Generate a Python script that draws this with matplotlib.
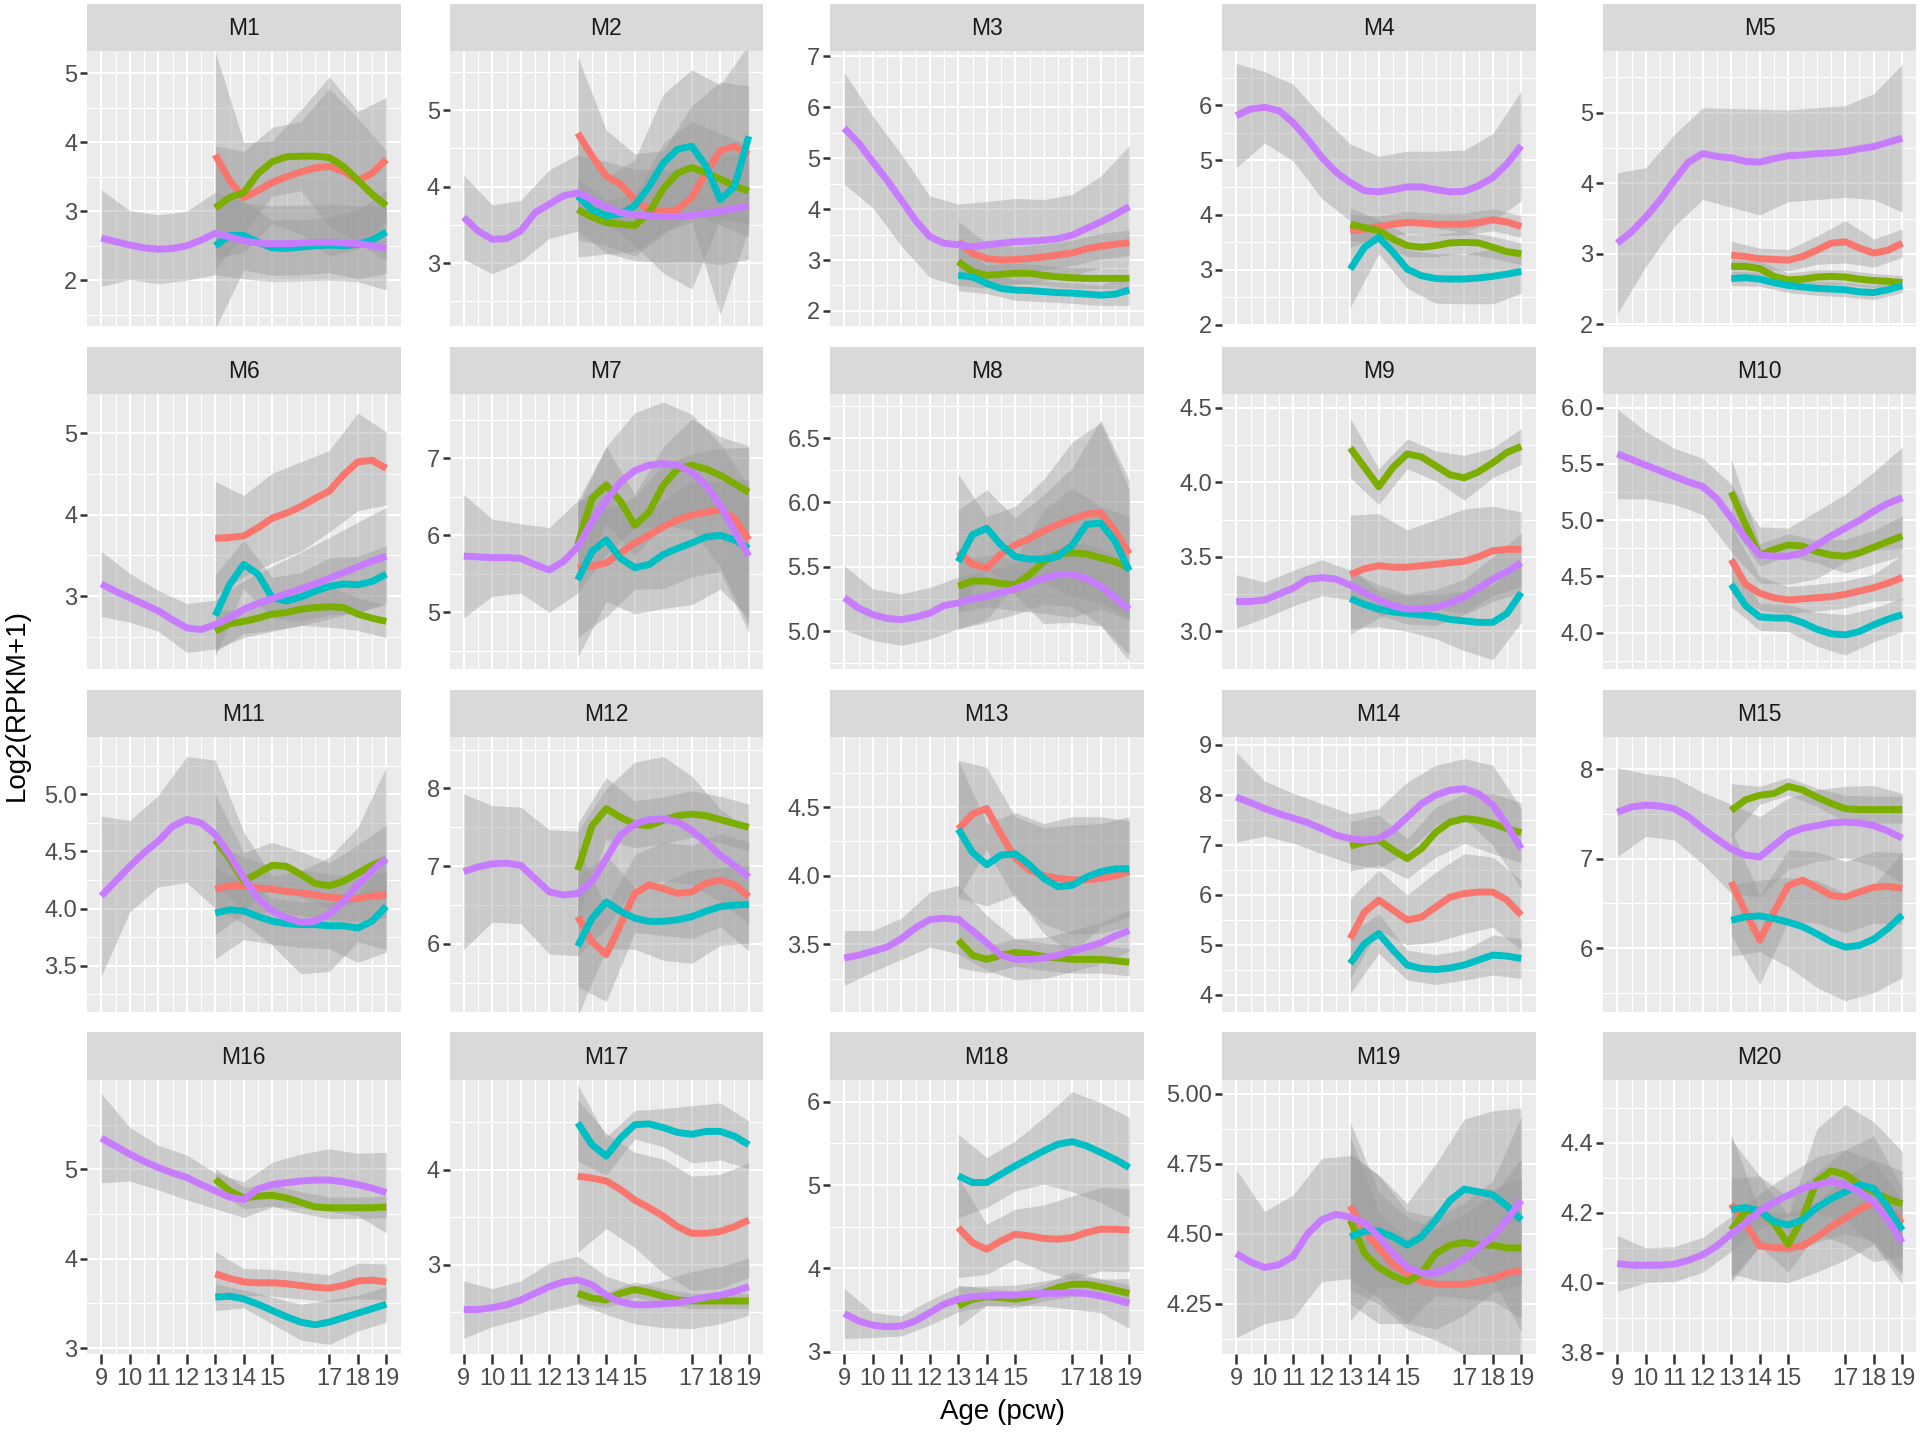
import matplotlib.pyplot as plt

plt.rcParams["font.family"] = ["Liberation Sans Narrow", "Liberation Sans", "DejaVu Sans"]

modules = ["M1", "M2", "M3", "M4", "M5", "M6", "M7", "M8", "M9", "M10",
           "M11", "M12", "M13", "M14", "M15", "M16", "M17", "M18", "M19", "M20"]

age_fine = [9, 9.5, 10, 10.5, 11, 11.5, 12, 12.5, 13, 13.5, 14, 14.5, 15, 15.5,
            16, 16.5, 17, 17.5, 18, 18.5, 19]
age_late = [13, 13.5, 14, 14.5, 15, 15.5, 16, 16.5, 17, 17.5, 18, 18.5, 19]
band_full = [9, 10, 11, 12, 13, 14, 15, 16, 17, 18, 19]
band_late = [13, 14, 15, 16, 17, 18, 19]
age_ticks = [9, 10, 11, 12, 13, 14, 15, 17, 18, 19]

# smoothed trend per module (purple group spans 9-19 pcw)
purple = [
    [2.61, 2.56, 2.51, 2.47, 2.45, 2.46, 2.50, 2.58, 2.68, 2.63, 2.57, 2.54, 2.53, 2.53, 2.54, 2.55, 2.55, 2.54, 2.53, 2.50, 2.46],
    [3.60, 3.42, 3.31, 3.32, 3.42, 3.66, 3.77, 3.88, 3.92, 3.83, 3.73, 3.66, 3.63, 3.62, 3.61, 3.61, 3.62, 3.65, 3.68, 3.71, 3.75],
    [5.59, 5.30, 4.93, 4.57, 4.18, 3.78, 3.46, 3.33, 3.30, 3.26, 3.30, 3.33, 3.36, 3.37, 3.39, 3.42, 3.49, 3.62, 3.75, 3.89, 4.05],
    [5.81, 5.93, 5.96, 5.90, 5.68, 5.38, 5.05, 4.78, 4.59, 4.44, 4.42, 4.46, 4.51, 4.51, 4.46, 4.42, 4.43, 4.53, 4.68, 4.93, 5.26],
    [3.15, 3.31, 3.52, 3.76, 4.04, 4.30, 4.42, 4.38, 4.36, 4.31, 4.30, 4.35, 4.39, 4.40, 4.42, 4.43, 4.45, 4.49, 4.52, 4.58, 4.64],
    [3.15, 3.06, 2.98, 2.90, 2.82, 2.71, 2.61, 2.59, 2.65, 2.73, 2.84, 2.91, 2.97, 3.03, 3.09, 3.15, 3.22, 3.29, 3.36, 3.43, 3.49],
    [5.73, 5.72, 5.71, 5.71, 5.70, 5.62, 5.55, 5.66, 5.85, 6.18, 6.45, 6.69, 6.84, 6.91, 6.93, 6.91, 6.82, 6.65, 6.39, 6.05, 5.73],
    [5.26, 5.18, 5.13, 5.10, 5.09, 5.11, 5.14, 5.20, 5.22, 5.25, 5.27, 5.30, 5.33, 5.37, 5.41, 5.44, 5.44, 5.41, 5.35, 5.26, 5.17],
    [3.20, 3.20, 3.21, 3.25, 3.29, 3.35, 3.36, 3.35, 3.31, 3.26, 3.21, 3.17, 3.15, 3.15, 3.16, 3.19, 3.23, 3.29, 3.35, 3.40, 3.46],
    [5.59, 5.54, 5.49, 5.44, 5.39, 5.34, 5.30, 5.19, 5.02, 4.84, 4.69, 4.68, 4.68, 4.71, 4.78, 4.86, 4.93, 5.00, 5.08, 5.15, 5.20],
    [4.11, 4.24, 4.37, 4.49, 4.59, 4.72, 4.78, 4.75, 4.65, 4.47, 4.27, 4.09, 3.98, 3.92, 3.88, 3.89, 3.95, 4.06, 4.21, 4.33, 4.44],
    [6.93, 6.99, 7.03, 7.04, 7.01, 6.84, 6.67, 6.63, 6.65, 6.80, 7.10, 7.40, 7.54, 7.60, 7.61, 7.57, 7.46, 7.31, 7.14, 7.01, 6.86],
    [3.40, 3.42, 3.45, 3.48, 3.54, 3.62, 3.68, 3.69, 3.68, 3.60, 3.51, 3.42, 3.39, 3.39, 3.40, 3.42, 3.45, 3.48, 3.51, 3.56, 3.60],
    [7.95, 7.84, 7.72, 7.62, 7.53, 7.44, 7.32, 7.19, 7.12, 7.09, 7.12, 7.29, 7.55, 7.82, 7.99, 8.09, 8.12, 8.02, 7.79, 7.39, 6.92],
    [7.52, 7.58, 7.60, 7.59, 7.56, 7.47, 7.34, 7.22, 7.11, 7.04, 7.02, 7.15, 7.28, 7.34, 7.37, 7.40, 7.41, 7.40, 7.37, 7.31, 7.23],
    [5.35, 5.26, 5.17, 5.09, 5.02, 4.96, 4.91, 4.83, 4.76, 4.69, 4.66, 4.78, 4.83, 4.85, 4.87, 4.88, 4.88, 4.86, 4.83, 4.79, 4.74],
    [2.53, 2.53, 2.55, 2.58, 2.63, 2.70, 2.77, 2.82, 2.84, 2.79, 2.68, 2.61, 2.58, 2.58, 2.59, 2.60, 2.63, 2.66, 2.68, 2.72, 2.77],
    [3.46, 3.37, 3.32, 3.30, 3.31, 3.37, 3.47, 3.57, 3.63, 3.66, 3.67, 3.68, 3.68, 3.69, 3.70, 3.70, 3.71, 3.70, 3.67, 3.63, 3.58],
    [4.43, 4.40, 4.38, 4.39, 4.42, 4.50, 4.55, 4.57, 4.56, 4.54, 4.49, 4.43, 4.38, 4.36, 4.36, 4.38, 4.41, 4.45, 4.49, 4.55, 4.62],
    [4.055, 4.05, 4.05, 4.05, 4.053, 4.064, 4.08, 4.105, 4.14, 4.17, 4.205, 4.23, 4.25, 4.27, 4.28, 4.29, 4.28, 4.26, 4.23, 4.18, 4.115],
]

red = [
    [3.82, 3.45, 3.20, 3.30, 3.42, 3.50, 3.57, 3.63, 3.65, 3.58, 3.45, 3.55, 3.75],
    [4.70, 4.40, 4.14, 4.03, 3.83, 3.70, 3.67, 3.70, 3.86, 4.18, 4.47, 4.53, 4.42],
    [3.36, 3.13, 3.03, 3.00, 3.01, 3.03, 3.06, 3.10, 3.14, 3.22, 3.27, 3.31, 3.34],
    [3.71, 3.74, 3.78, 3.83, 3.86, 3.85, 3.83, 3.83, 3.83, 3.86, 3.91, 3.87, 3.79],
    [2.98, 2.96, 2.93, 2.92, 2.91, 2.96, 3.05, 3.15, 3.17, 3.08, 3.01, 3.05, 3.15],
    [3.71, 3.72, 3.74, 3.84, 3.96, 4.02, 4.10, 4.20, 4.29, 4.49, 4.65, 4.67, 4.57],
    [5.58, 5.60, 5.64, 5.77, 5.90, 6.00, 6.11, 6.20, 6.26, 6.30, 6.33, 6.22, 5.94],
    [5.62, 5.52, 5.49, 5.60, 5.67, 5.72, 5.78, 5.83, 5.87, 5.91, 5.92, 5.78, 5.60],
    [3.38, 3.42, 3.44, 3.43, 3.43, 3.44, 3.45, 3.46, 3.47, 3.50, 3.54, 3.55, 3.55],
    [4.65, 4.43, 4.35, 4.31, 4.29, 4.30, 4.31, 4.32, 4.34, 4.37, 4.40, 4.44, 4.49],
    [4.17, 4.20, 4.20, 4.18, 4.17, 4.15, 4.14, 4.12, 4.10, 4.09, 4.09, 4.11, 4.12],
    [6.35, 6.03, 5.86, 6.25, 6.65, 6.76, 6.71, 6.65, 6.67, 6.78, 6.82, 6.76, 6.61],
    [4.34, 4.45, 4.49, 4.30, 4.13, 4.04, 4.00, 3.98, 3.97, 3.97, 3.98, 4.00, 4.03],
    [5.12, 5.65, 5.89, 5.69, 5.49, 5.55, 5.75, 5.95, 6.02, 6.05, 6.05, 5.89, 5.59],
    [6.74, 6.40, 6.09, 6.40, 6.70, 6.76, 6.68, 6.59, 6.57, 6.63, 6.68, 6.69, 6.67],
    [3.83, 3.78, 3.74, 3.73, 3.73, 3.72, 3.70, 3.68, 3.67, 3.70, 3.75, 3.76, 3.74],
    [3.93, 3.91, 3.88, 3.79, 3.68, 3.60, 3.51, 3.40, 3.33, 3.33, 3.35, 3.40, 3.47],
    [4.49, 4.31, 4.23, 4.33, 4.41, 4.39, 4.36, 4.35, 4.37, 4.43, 4.47, 4.47, 4.46],
    [4.60, 4.51, 4.45, 4.39, 4.36, 4.33, 4.32, 4.32, 4.32, 4.33, 4.34, 4.36, 4.37],
    [4.225, 4.17, 4.105, 4.10, 4.10, 4.105, 4.13, 4.16, 4.185, 4.21, 4.23, 4.215, 4.17],
]

green = [
    [3.05, 3.20, 3.27, 3.55, 3.72, 3.79, 3.80, 3.80, 3.78, 3.65, 3.45, 3.25, 3.08],
    [3.70, 3.60, 3.53, 3.51, 3.49, 3.66, 3.97, 4.18, 4.25, 4.18, 4.10, 4.01, 3.94],
    [2.97, 2.77, 2.70, 2.72, 2.74, 2.74, 2.70, 2.67, 2.65, 2.64, 2.64, 2.64, 2.64],
    [3.83, 3.77, 3.71, 3.56, 3.44, 3.41, 3.44, 3.49, 3.50, 3.49, 3.41, 3.33, 3.29],
    [2.82, 2.82, 2.79, 2.68, 2.63, 2.64, 2.67, 2.68, 2.67, 2.64, 2.62, 2.61, 2.59],
    [2.57, 2.66, 2.69, 2.73, 2.78, 2.80, 2.84, 2.86, 2.87, 2.86, 2.78, 2.73, 2.69],
    [5.88, 6.48, 6.65, 6.44, 6.13, 6.30, 6.65, 6.86, 6.91, 6.86, 6.78, 6.67, 6.56],
    [5.35, 5.39, 5.39, 5.37, 5.36, 5.44, 5.54, 5.60, 5.61, 5.60, 5.57, 5.54, 5.49],
    [4.23, 4.10, 3.97, 4.10, 4.19, 4.17, 4.11, 4.05, 4.03, 4.07, 4.13, 4.20, 4.24],
    [5.25, 4.96, 4.69, 4.74, 4.78, 4.77, 4.72, 4.69, 4.68, 4.71, 4.76, 4.81, 4.86],
    [4.60, 4.44, 4.24, 4.31, 4.38, 4.37, 4.30, 4.22, 4.20, 4.24, 4.31, 4.38, 4.43],
    [6.95, 7.52, 7.74, 7.63, 7.54, 7.52, 7.59, 7.65, 7.67, 7.65, 7.60, 7.55, 7.50],
    [3.53, 3.42, 3.39, 3.42, 3.44, 3.43, 3.41, 3.40, 3.39, 3.39, 3.39, 3.38, 3.37],
    [6.97, 7.05, 7.09, 6.89, 6.72, 6.92, 7.25, 7.45, 7.52, 7.49, 7.42, 7.32, 7.24],
    [7.54, 7.66, 7.71, 7.73, 7.81, 7.77, 7.69, 7.62, 7.56, 7.55, 7.55, 7.55, 7.55],
    [4.89, 4.76, 4.68, 4.70, 4.71, 4.68, 4.63, 4.58, 4.57, 4.57, 4.57, 4.57, 4.58],
    [2.70, 2.65, 2.63, 2.70, 2.74, 2.71, 2.67, 2.63, 2.62, 2.62, 2.62, 2.62, 2.62],
    [3.55, 3.63, 3.66, 3.65, 3.63, 3.66, 3.71, 3.77, 3.81, 3.81, 3.78, 3.74, 3.70],
    [4.55, 4.43, 4.38, 4.35, 4.33, 4.36, 4.43, 4.46, 4.47, 4.46, 4.46, 4.45, 4.45],
    [4.15, 4.205, 4.205, 4.17, 4.11, 4.185, 4.29, 4.32, 4.31, 4.28, 4.26, 4.24, 4.225],
]

cyan = [
    [2.50, 2.65, 2.65, 2.55, 2.47, 2.46, 2.48, 2.50, 2.51, 2.50, 2.52, 2.58, 2.70],
    [3.88, 3.70, 3.62, 3.64, 3.75, 4.00, 4.31, 4.49, 4.53, 4.27, 3.83, 4.00, 4.66],
    [2.70, 2.67, 2.54, 2.44, 2.41, 2.40, 2.38, 2.36, 2.35, 2.33, 2.31, 2.33, 2.41],
    [3.01, 3.41, 3.59, 3.32, 3.01, 2.89, 2.84, 2.83, 2.83, 2.85, 2.88, 2.92, 2.97],
    [2.65, 2.66, 2.64, 2.59, 2.55, 2.53, 2.51, 2.50, 2.49, 2.46, 2.45, 2.49, 2.55],
    [2.76, 3.14, 3.39, 3.27, 2.98, 2.94, 2.99, 3.06, 3.12, 3.15, 3.14, 3.18, 3.27],
    [5.42, 5.79, 5.94, 5.70, 5.58, 5.62, 5.75, 5.83, 5.90, 5.98, 6.00, 5.94, 5.83],
    [5.54, 5.75, 5.80, 5.67, 5.58, 5.56, 5.56, 5.58, 5.67, 5.83, 5.84, 5.70, 5.47],
    [3.22, 3.18, 3.15, 3.13, 3.12, 3.11, 3.10, 3.08, 3.07, 3.06, 3.06, 3.12, 3.26],
    [4.43, 4.24, 4.14, 4.13, 4.13, 4.09, 4.03, 3.99, 3.98, 4.01, 4.07, 4.12, 4.16],
    [3.96, 3.99, 3.98, 3.93, 3.89, 3.87, 3.86, 3.86, 3.85, 3.85, 3.83, 3.89, 4.02],
    [5.97, 6.33, 6.54, 6.42, 6.33, 6.29, 6.29, 6.31, 6.35, 6.42, 6.48, 6.50, 6.51],
    [4.34, 4.17, 4.08, 4.15, 4.16, 4.08, 3.98, 3.92, 3.93, 3.99, 4.03, 4.05, 4.05],
    [4.62, 5.02, 5.22, 4.89, 4.59, 4.52, 4.50, 4.53, 4.59, 4.69, 4.79, 4.77, 4.72],
    [6.31, 6.35, 6.36, 6.33, 6.29, 6.24, 6.16, 6.07, 6.01, 6.03, 6.10, 6.22, 6.37],
    [3.57, 3.58, 3.55, 3.49, 3.42, 3.35, 3.29, 3.26, 3.29, 3.34, 3.39, 3.44, 3.49],
    [4.49, 4.26, 4.14, 4.33, 4.47, 4.48, 4.44, 4.39, 4.37, 4.40, 4.40, 4.35, 4.26],
    [5.11, 5.03, 5.03, 5.13, 5.23, 5.32, 5.41, 5.49, 5.52, 5.47, 5.39, 5.31, 5.21],
    [4.49, 4.51, 4.51, 4.49, 4.46, 4.49, 4.55, 4.62, 4.66, 4.65, 4.64, 4.60, 4.55],
    [4.21, 4.215, 4.205, 4.175, 4.165, 4.18, 4.215, 4.24, 4.26, 4.28, 4.27, 4.215, 4.15],
]

# half width of the confidence band at whole-week ages
purple_hw = [
    [0.70, 0.50, 0.50, 0.50, 0.60, 0.55, 0.55, 0.55, 0.55, 0.55, 0.60],
    [0.55, 0.45, 0.40, 0.45, 0.50, 0.60, 0.60, 0.60, 0.60, 0.70, 0.70],
    [1.10, 0.90, 0.90, 0.80, 0.80, 0.85, 0.85, 0.80, 0.80, 0.90, 1.20],
    [0.95, 0.65, 0.70, 0.75, 0.70, 0.65, 0.65, 0.70, 0.75, 0.80, 1.00],
    [1.00, 0.70, 0.65, 0.65, 0.70, 0.75, 0.65, 0.65, 0.65, 0.75, 1.05],
    [0.40, 0.30, 0.25, 0.30, 0.30, 0.35, 0.40, 0.45, 0.50, 0.55, 0.60],
    [0.80, 0.50, 0.45, 0.55, 0.60, 0.70, 0.75, 0.80, 0.75, 0.80, 0.90],
    [0.25, 0.20, 0.20, 0.20, 0.20, 0.20, 0.20, 0.20, 0.25, 0.30, 0.35],
    [0.18, 0.12, 0.12, 0.12, 0.10, 0.10, 0.10, 0.12, 0.12, 0.15, 0.20],
    [0.40, 0.30, 0.25, 0.25, 0.30, 0.25, 0.25, 0.30, 0.30, 0.35, 0.45],
    [0.70, 0.40, 0.40, 0.55, 0.65, 0.40, 0.30, 0.45, 0.50, 0.50, 0.80],
    [1.00, 0.75, 0.75, 0.80, 0.80, 0.90, 0.80, 0.80, 0.70, 0.60, 0.60],
    [0.20, 0.15, 0.15, 0.20, 0.25, 0.20, 0.15, 0.15, 0.15, 0.15, 0.15],
    [0.90, 0.55, 0.50, 0.50, 0.50, 0.60, 0.70, 0.60, 0.60, 0.80, 0.80],
    [0.50, 0.35, 0.35, 0.40, 0.50, 0.45, 0.40, 0.40, 0.40, 0.45, 0.50],
    [0.50, 0.30, 0.25, 0.25, 0.20, 0.20, 0.25, 0.30, 0.35, 0.35, 0.45],
    [0.30, 0.20, 0.20, 0.25, 0.25, 0.20, 0.20, 0.25, 0.30, 0.30, 0.30],
    [0.30, 0.15, 0.12, 0.15, 0.15, 0.12, 0.12, 0.15, 0.20, 0.20, 0.30],
    [0.30, 0.20, 0.22, 0.22, 0.22, 0.22, 0.20, 0.20, 0.20, 0.20, 0.30],
    [0.08, 0.05, 0.05, 0.05, 0.05, 0.05, 0.06, 0.08, 0.10, 0.12, 0.12],
]

red_hw = [
    [1.50, 0.80, 0.60, 0.90, 1.30, 1.00, 0.90],
    [1.00, 0.60, 0.60, 0.80, 1.20, 0.90, 0.90],
    [0.40, 0.30, 0.25, 0.25, 0.25, 0.25, 0.25],
    [0.30, 0.20, 0.20, 0.20, 0.20, 0.20, 0.20],
    [0.20, 0.15, 0.15, 0.20, 0.30, 0.20, 0.20],
    [0.70, 0.50, 0.55, 0.55, 0.50, 0.60, 0.45],
    [0.90, 0.70, 0.60, 0.80, 0.80, 0.80, 1.20],
    [0.60, 0.40, 0.30, 0.40, 0.60, 0.70, 0.50],
    [0.40, 0.35, 0.25, 0.30, 0.35, 0.30, 0.25],
    [0.30, 0.15, 0.12, 0.12, 0.12, 0.12, 0.20],
    [0.40, 0.25, 0.20, 0.20, 0.20, 0.20, 0.20],
    [0.90, 0.60, 0.50, 0.60, 0.60, 0.60, 0.70],
    [0.50, 0.30, 0.30, 0.35, 0.40, 0.40, 0.40],
    [0.80, 0.60, 0.50, 0.70, 0.80, 0.70, 0.70],
    [0.60, 0.50, 0.40, 0.40, 0.40, 0.40, 0.40],
    [0.25, 0.15, 0.15, 0.15, 0.15, 0.20, 0.20],
    [0.80, 0.50, 0.50, 0.60, 0.60, 0.60, 0.60],
    [0.60, 0.30, 0.30, 0.40, 0.50, 0.50, 0.50],
    [0.30, 0.20, 0.20, 0.20, 0.25, 0.30, 0.40],
    [0.20, 0.10, 0.10, 0.10, 0.12, 0.12, 0.15],
]

green_hw = [
    [0.90, 0.60, 0.50, 0.50, 1.00, 0.90, 0.80],
    [0.40, 0.30, 0.40, 0.60, 0.60, 0.60, 0.60],
    [0.30, 0.20, 0.20, 0.20, 0.20, 0.20, 0.20],
    [0.30, 0.20, 0.20, 0.20, 0.20, 0.20, 0.20],
    [0.10, 0.10, 0.10, 0.10, 0.10, 0.10, 0.10],
    [0.25, 0.15, 0.20, 0.20, 0.25, 0.20, 0.20],
    [0.50, 0.50, 0.40, 0.50, 0.60, 0.50, 0.60],
    [0.20, 0.20, 0.20, 0.40, 0.50, 0.40, 0.40],
    [0.20, 0.12, 0.10, 0.10, 0.15, 0.10, 0.12],
    [0.30, 0.10, 0.10, 0.10, 0.15, 0.15, 0.18],
    [0.40, 0.25, 0.20, 0.20, 0.20, 0.25, 0.30],
    [0.60, 0.40, 0.30, 0.30, 0.30, 0.30, 0.30],
    [0.20, 0.10, 0.10, 0.10, 0.10, 0.10, 0.10],
    [0.50, 0.50, 0.40, 0.50, 0.50, 0.60, 0.60],
    [0.30, 0.10, 0.10, 0.10, 0.15, 0.15, 0.15],
    [0.12, 0.12, 0.12, 0.12, 0.12, 0.12, 0.12],
    [0.10, 0.08, 0.08, 0.08, 0.08, 0.08, 0.08],
    [0.25, 0.10, 0.10, 0.10, 0.15, 0.10, 0.10],
    [0.30, 0.20, 0.15, 0.15, 0.20, 0.20, 0.25],
    [0.15, 0.10, 0.08, 0.15, 0.20, 0.20, 0.15],
]

cyan_hw = [
    [1.20, 0.50, 0.40, 0.40, 0.40, 0.50, 0.60],
    [0.80, 0.50, 0.60, 0.90, 1.00, 1.50, 1.20],
    [0.30, 0.20, 0.20, 0.20, 0.20, 0.20, 0.30],
    [0.70, 0.30, 0.35, 0.45, 0.45, 0.50, 0.40],
    [0.10, 0.10, 0.10, 0.10, 0.10, 0.10, 0.10],
    [0.50, 0.30, 0.25, 0.30, 0.35, 0.35, 0.35],
    [1.00, 0.80, 0.60, 0.70, 0.80, 0.70, 0.90],
    [0.40, 0.30, 0.30, 0.50, 0.60, 0.80, 0.70],
    [0.20, 0.12, 0.12, 0.15, 0.20, 0.25, 0.20],
    [0.20, 0.12, 0.12, 0.15, 0.18, 0.15, 0.15],
    [0.40, 0.25, 0.20, 0.20, 0.20, 0.30, 0.40],
    [0.90, 0.60, 0.40, 0.50, 0.60, 0.50, 0.50],
    [0.50, 0.30, 0.30, 0.40, 0.50, 0.40, 0.35],
    [0.60, 0.40, 0.30, 0.30, 0.30, 0.40, 0.40],
    [0.40, 0.40, 0.50, 0.60, 0.60, 0.60, 0.70],
    [0.15, 0.10, 0.15, 0.20, 0.25, 0.20, 0.20],
    [0.40, 0.20, 0.15, 0.20, 0.30, 0.30, 0.25],
    [0.50, 0.30, 0.30, 0.40, 0.60, 0.60, 0.60],
    [0.30, 0.20, 0.15, 0.20, 0.25, 0.30, 0.40],
    [0.20, 0.10, 0.08, 0.10, 0.12, 0.15, 0.12],
]

y_limits = [(1.34, 5.32), (2.18, 5.77), (1.71, 7.10), (1.98, 6.98), (1.98, 5.87),
            (2.11, 5.48), (4.27, 7.83), (4.71, 6.84), (2.75, 4.59), (3.68, 6.12),
            (3.10, 5.50), (5.13, 8.66), (3.01, 5.01), (3.66, 9.15), (5.29, 8.36),
            (2.93, 6.00), (2.06, 4.94), (2.97, 6.26), (4.07, 5.05), (3.795, 4.58)]
y_breaks = [[2, 3, 4, 5], [3, 4, 5], [2, 3, 4, 5, 6, 7], [2, 3, 4, 5, 6], [2, 3, 4, 5],
            [3, 4, 5], [5, 6, 7], [5.0, 5.5, 6.0, 6.5], [3.0, 3.5, 4.0, 4.5], [4.0, 4.5, 5.0, 5.5, 6.0],
            [3.5, 4.0, 4.5, 5.0], [6, 7, 8], [3.5, 4.0, 4.5], [4, 5, 6, 7, 8, 9], [6, 7, 8],
            [3, 4, 5], [3, 4], [3, 4, 5, 6], [4.25, 4.50, 4.75, 5.00], [3.8, 4.0, 4.2, 4.4]]
y_decimals = [0, 0, 0, 0, 0, 0, 0, 1, 1, 1, 1, 0, 1, 0, 0, 0, 0, 0, 2, 1]

# ggplot default hue palette, drawn in factor order
series_colors = ["#F8766D", "#7CAE00", "#00BFC4", "#C77CFF"]

W, H = 1920, 1433
fig = plt.figure(figsize=(W / 100, H / 100), dpi=100)

col_left = [87, 449.5, 830, 1222, 1603]
row_top = [51.4, 394.3, 737.2, 1080.0]
panel_w, panel_h, strip_h = 313.5, 274.3, 47.7
minor_x = [9.5, 10.5, 11.5, 12.5, 13.5, 14.5, 15.5, 16, 16.5, 17.5, 18.5]

for i, name in enumerate(modules):
    r, c = divmod(i, 5)
    x0, y0 = col_left[c], row_top[r]
    ax = fig.add_axes([x0 / W, 1 - (y0 + panel_h) / H, panel_w / W, panel_h / H])
    sx = fig.add_axes([x0 / W, 1 - y0 / H, panel_w / W, strip_h / H])

    # strip
    sx.set_facecolor("#D9D9D9")
    sx.set_xticks([])
    sx.set_yticks([])
    for s in sx.spines.values():
        s.set_visible(False)
    sx.text(0.5, 0.47, name, ha="center", va="center", fontsize=16.5,
            color="#1A1A1A", transform=sx.transAxes)

    # panel
    ax.set_facecolor("#EBEBEB")
    for s in ax.spines.values():
        s.set_visible(False)
    ax.set_axisbelow(True)
    ax.set_xlim(8.5, 19.5)
    lo, hi = y_limits[i]
    ax.set_ylim(lo, hi)

    brk = y_breaks[i]
    step = brk[1] - brk[0]
    minor_y = [b - step / 2 for b in brk] + [brk[-1] + step / 2]
    minor_y = [m for m in minor_y if lo < m < hi]
    ax.set_yticks(brk)
    ax.set_yticklabels([f"{b:.{y_decimals[i]}f}" for b in brk])
    ax.set_yticks(minor_y, minor=True)
    ax.set_xticks(age_ticks)
    ax.set_xticks(minor_x, minor=True)
    ax.grid(which="major", color="white", linewidth=1.5)
    ax.grid(which="minor", color="white", linewidth=0.8)
    ax.tick_params(axis="y", which="major", length=5, width=1.8, color="#333333",
                   labelcolor="#4D4D4D", labelsize=17, pad=2)
    ax.tick_params(which="minor", length=0)
    if r == 3:
        ax.tick_params(axis="x", which="major", length=7, width=1.8, color="#333333",
                       labelcolor="#4D4D4D", labelsize=17, pad=3)
    else:
        ax.tick_params(axis="x", which="major", length=0, labelbottom=False)

    groups = [(age_late, band_late, red[i], red_hw[i]),
              (age_late, band_late, green[i], green_hw[i]),
              (age_late, band_late, cyan[i], cyan_hw[i]),
              (age_fine, band_full, purple[i], purple_hw[i])]
    for (xs, xb, ys, hw), col in zip(groups, series_colors):
        centre = ys[::2]
        ax.fill_between(xb, [m - h for m, h in zip(centre, hw)],
                        [m + h for m, h in zip(centre, hw)],
                        color="#999999", alpha=0.4, linewidth=0)
        ax.plot(xs, ys, color=col, linewidth=5, solid_capstyle="butt",
                solid_joinstyle="round")

fig.text(17 / W, 1 - 705 / H, "Log2(RPKM+1)", rotation=90, ha="center", va="center",
         fontsize=20, color="black")
fig.text(1002 / W, 1 - 1412 / H, "Age (pcw)", ha="center", va="center",
         fontsize=20, color="black")

fig.savefig("out.png", dpi=100)
